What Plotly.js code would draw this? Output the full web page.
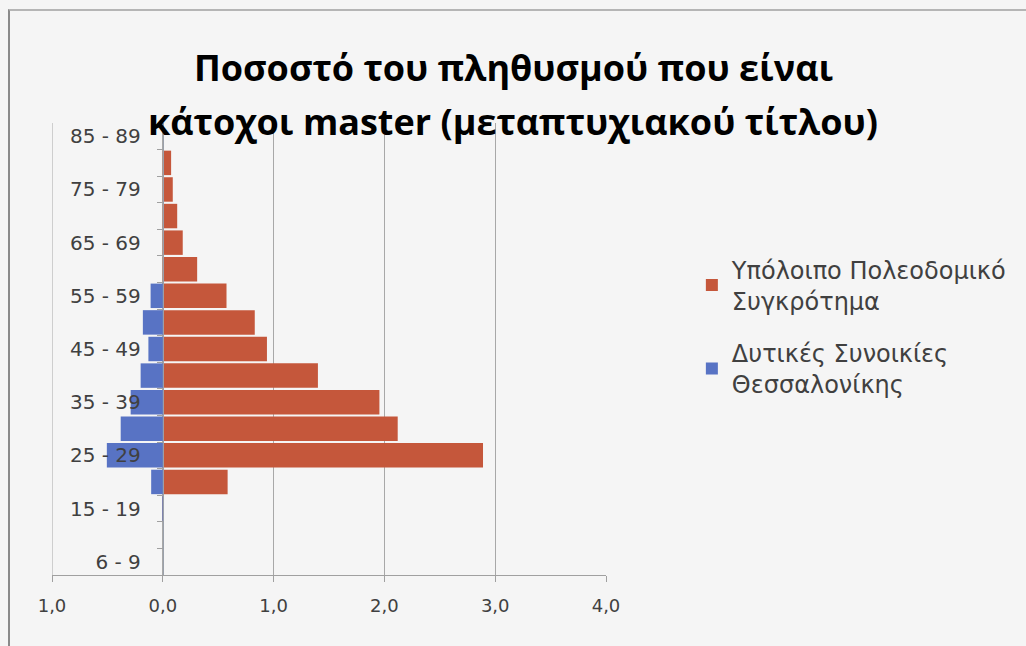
<!DOCTYPE html>
<html>
<head>
<meta charset="utf-8">
<script src="https://cdn.plot.ly/plotly-3.0.1.min.js"></script>
<style>
  html, body { margin: 0; padding: 0; background: #f5f5f5; }
  #frame { position: absolute; left: 8px; top: 9px; width: 1030px; height: 660px; border-left: 2px solid #8a8a8a; border-top: 2px solid #b5b5b5; }
  #chart { position: absolute; left: 0; top: 0; width: 1026px; height: 646px; }
</style>
</head>
<body>
<div id="frame"></div>
<div id="chart"></div>
<script>
// Age groups, bottom to top
const ageGroups = ["6 - 9", "10 - 14", "15 - 19", "20 - 24", "25 - 29", "30 - 34", "35 - 39", "40 - 44", "45 - 49", "50 - 54", "55 - 59", "60 - 64", "65 - 69", "70 - 74", "75 - 79", "80 - 84", "85 - 89"];
// Labels shown on the axis (every other group)
const shownLabels = ["6 - 9", "15 - 19", "25 - 29", "35 - 39", "45 - 49", "55 - 59", "65 - 69", "75 - 79", "85 - 89"];
// Υπόλοιπο Πολεοδομικό Συγκρότημα (%)
const restValues = [0, 0, 0.005, 0.585, 2.89, 2.12, 1.955, 1.40, 0.94, 0.83, 0.575, 0.31, 0.18, 0.13, 0.09, 0.075, 0];
// Δυτικές Συνοικίες Θεσσαλονίκης (%) — drawn to the left
const westValues = [0, 0, 0.005, 0.105, 0.505, 0.38, 0.29, 0.20, 0.13, 0.18, 0.11, 0, 0, 0, 0, 0, 0];
// X axis ticks
const xTicks = [-1, 0, 1, 2, 3, 4];
const xRange = [-1, 4];

const seriesNames = ["Υπόλοιπο Πολεοδομικό<br>Συγκρότημα", "Δυτικές Συνοικίες<br>Θεσσαλονίκης"];
const titleLines = ["Ποσοστό του πληθυσμού που είναι", "κάτοχοι master (μεταπτυχιακού τίτλου)"];

const traces = [
  {
    type: "bar", orientation: "h", name: seriesNames[0],
    y: ageGroups, x: restValues,
    marker: { color: "#C5573B" }, legendgroup: "a",
    hoverinfo: "y+x"
  },
  {
    type: "bar", orientation: "h", name: seriesNames[1],
    y: ageGroups, x: westValues.map(v => -v),
    marker: { color: "#5873C4" }, legendgroup: "b",
    customdata: westValues, hovertemplate: "%{y}: %{customdata}<extra></extra>"
  }
];

const fmt = v => Math.abs(v).toFixed(1).replace(".", ",");
const zeroPos = (0 - xRange[0]) / (xRange[1] - xRange[0]);
const titleFont = { family: "Open Sans, Noto Sans, sans-serif", size: 36, color: "#000", weight: "bold" };

const layout = {
  width: 1026, height: 646,
  paper_bgcolor: "rgba(0,0,0,0)", plot_bgcolor: "rgba(0,0,0,0)",
  margin: { l: 52, r: 420, t: 123, b: 71 },
  barmode: "relative", bargap: 0.08,
  annotations: [
    { text: titleLines[0], xref: "paper", yref: "paper", x: 461 / 554, y: 1.122, xanchor: "center", yanchor: "middle", showarrow: false, font: titleFont },
    { text: titleLines[1], xref: "paper", yref: "paper", x: 461 / 554, y: 1.004, xanchor: "center", yanchor: "middle", showarrow: false, font: titleFont }
  ],
  shapes: [
    { type: "line", xref: "x", yref: "paper", x0: xRange[0], x1: xRange[0], y0: 0, y1: 1, line: { color: "#a8a8a8", width: 1 }, layer: "below" }
  ],
  xaxis: {
    range: xRange, tickvals: xTicks, ticktext: xTicks.map(fmt),
    showgrid: true, gridcolor: "#a8a8a8", gridwidth: 1,
    zeroline: false, showline: true, linecolor: "#a0a0a0", linewidth: 1,
    ticks: "outside", ticklen: 6, tickcolor: "#a0a0a0",
    ticklabelstandoff: 8,
    tickfont: { family: "DejaVu Sans, sans-serif", size: 18, color: "#404040" },
    fixedrange: true
  },
  yaxis: {
    type: "category", categoryorder: "array", categoryarray: ageGroups,
    range: [-0.5, ageGroups.length - 0.5],
    anchor: "free", position: zeroPos,
    tickvals: ageGroups, ticktext: ageGroups.map(g => shownLabels.includes(g) ? g : ""),
    tickson: "boundaries",
    ticks: "outside", ticklen: 6, tickcolor: "#a0a0a0",
    showline: true, linecolor: "#9aa0aa", linewidth: 1,
    showgrid: false, zeroline: false,
    ticklabelstandoff: 18,
    tickfont: { family: "DejaVu Sans, sans-serif", size: 20, color: "#404040" },
    fixedrange: true
  },
  showlegend: true,
  legend: {
    x: 1.155, xanchor: "left", y: 0.725, yanchor: "top",
    traceorder: "grouped", tracegroupgap: 18,
    itemwidth: 30,
    bgcolor: "rgba(0,0,0,0)",
    font: { family: "DejaVu Sans, sans-serif", size: 24, color: "#404040" }
  }
};

Plotly.newPlot("chart", traces, layout, { displayModeBar: false, staticPlot: true });
</script>
</body>
</html>
